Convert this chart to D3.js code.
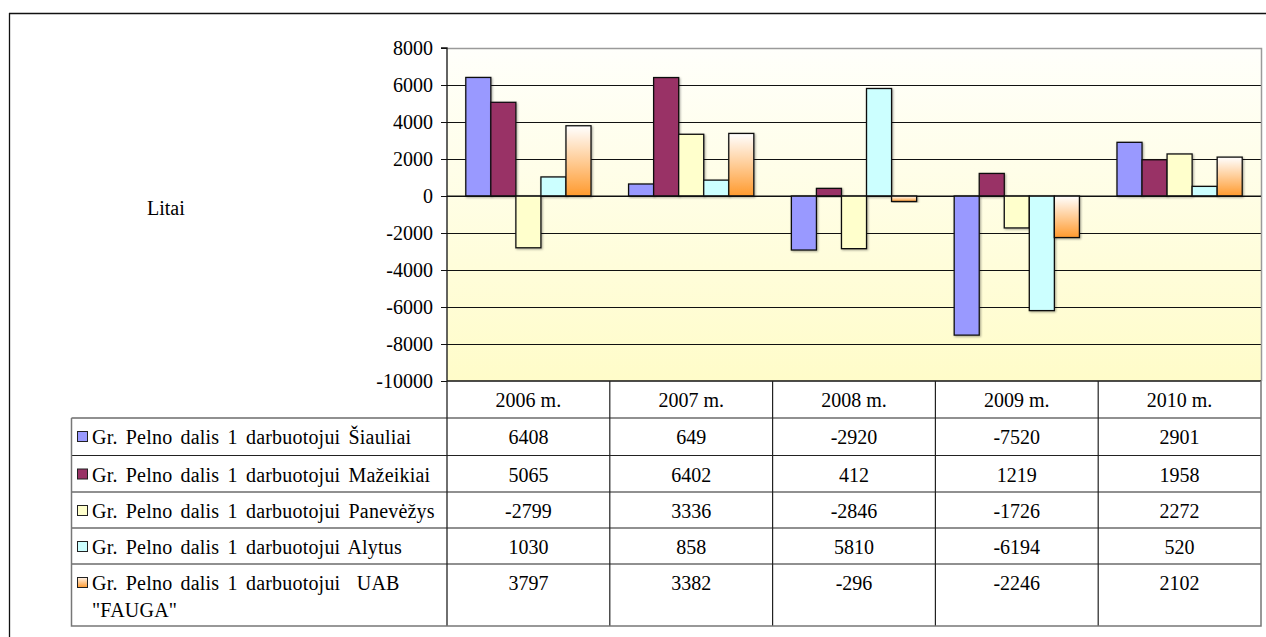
<!DOCTYPE html>
<html>
<head>
<meta charset="utf-8">
<script src="https://cdn.jsdelivr.net/npm/d3@7"></script>
<style>
  html, body { margin: 0; padding: 0; background: #fff; }
  svg { display: block; }
  text { font-family: "Liberation Serif", "Times New Roman", serif; fill: #000; }
</style>
</head>
<body>
<svg id="chart" width="1266" height="637"></svg>
<script>
// Profit share per employee (Litai), by year and unit
const years = ["2006 m.", "2007 m.", "2008 m.", "2009 m.", "2010 m."];
const seriesNames = [
  "Gr. Pelno dalis 1 darbuotojui Šiauliai",
  "Gr. Pelno dalis 1 darbuotojui Mažeikiai",
  "Gr. Pelno dalis 1 darbuotojui Panevėžys",
  "Gr. Pelno dalis 1 darbuotojui Alytus",
  "Gr. Pelno dalis 1 darbuotojui  UAB \"FAUGA\""
];
const siauliai  = [6408, 649, -2920, -7520, 2901];
const mazeikiai = [5065, 6402, 412, 1219, 1958];
const panevezys = [-2799, 3336, -2846, -1726, 2272];
const alytus    = [1030, 858, 5810, -6194, 520];
const fauga     = [3797, 3382, -296, -2246, 2102];
const yTicks = [8000, 6000, 4000, 2000, 0, -2000, -4000, -6000, -8000, -10000];
const axisTitle = "Litai";

const seriesValues = [siauliai, mazeikiai, panevezys, alytus, fauga];
const fills = ["#9999FF", "#993366", "#FFFFCC", "#CCFFFF", "url(#faugaGrad)"];
const swatchFills = ["#9999FF", "#993366", "#FFFFCC", "#CCFFFF", "url(#faugaSwatch)"];

const FONT = 20;
const fmt = d => String(d); // plain hyphen-minus

const svg = d3.select("#chart");
const defs = svg.append("defs");

const bg = defs.append("linearGradient").attr("id", "plotBg")
  .attr("x1", 0).attr("y1", 0).attr("x2", 0).attr("y2", 1);
bg.append("stop").attr("offset", "0%").attr("stop-color", "#FFFFFB");
bg.append("stop").attr("offset", "100%").attr("stop-color", "#FFFCC9");

const fg = defs.append("linearGradient").attr("id", "faugaGrad")
  .attr("x1", 0).attr("y1", 0).attr("x2", 0).attr("y2", 1);
fg.append("stop").attr("offset", "0%").attr("stop-color", "#FFFFFF");
fg.append("stop").attr("offset", "100%").attr("stop-color", "#FF9A2E");

const fs = defs.append("linearGradient").attr("id", "faugaSwatch")
  .attr("x1", 0).attr("y1", 0).attr("x2", 0).attr("y2", 1);
fs.append("stop").attr("offset", "0%").attr("stop-color", "#FFF4EA");
fs.append("stop").attr("offset", "100%").attr("stop-color", "#FF9A2E");

const shadow = defs.append("filter").attr("id", "barShadow")
  .attr("x", "-20%").attr("y", "-20%").attr("width", "140%").attr("height", "140%");
shadow.append("feDropShadow").attr("dx", 1).attr("dy", 1).attr("stdDeviation", 0.8)
  .attr("flood-color", "#000").attr("flood-opacity", 0.35);

// Outer frame (top and left edges)
svg.append("line").attr("x1", 9).attr("x2", 1266).attr("y1", 13.5).attr("y2", 13.5)
  .attr("stroke", "#111").attr("stroke-width", 1.3);
svg.append("line").attr("x1", 9.5).attr("x2", 9.5).attr("y1", 13).attr("y2", 637)
  .attr("stroke", "#111").attr("stroke-width", 1.3);

// Plot geometry
const plotLeft = 447, plotRight = 1261, plotTop = 48, plotBottom = 381;

const x0 = d3.scaleBand().domain(years).range([plotLeft, plotRight]).padding(0);
const x1 = d3.scaleBand().domain(d3.range(seriesNames.length))
  .range([0, x0.bandwidth()]).paddingInner(0).paddingOuter(0.75);
const y = d3.scaleLinear().domain([-10000, 8000]).range([plotBottom, plotTop]);

// Plot background
svg.append("rect").attr("x", plotLeft).attr("y", plotTop)
  .attr("width", plotRight - plotLeft).attr("height", plotBottom - plotTop)
  .attr("fill", "url(#plotBg)");

// Gridlines
svg.append("g").selectAll("line").data(yTicks.filter(t => t !== 8000 && t !== -10000))
  .join("line")
  .attr("x1", plotLeft).attr("x2", plotRight)
  .attr("y1", d => Math.round(y(d)) + 0.5).attr("y2", d => Math.round(y(d)) + 0.5)
  .attr("stroke", "#111").attr("stroke-width", 1);

// Plot border top/right (grey)
svg.append("path")
  .attr("d", `M${plotLeft},${plotTop + 0.5}H${plotRight + 0.5}V${plotBottom}`)
  .attr("fill", "none").attr("stroke", "#9a9a9a").attr("stroke-width", 1.5);

// Y axis
const yAxis = d3.axisLeft(y).tickValues(yTicks).tickSize(6).tickPadding(8)
  .tickFormat(fmt);
const yg = svg.append("g").attr("transform", `translate(${plotLeft},0)`).call(yAxis);
yg.attr("font-family", null).attr("font-size", null);
yg.select(".domain").attr("stroke", "#111").attr("stroke-width", 1.3)
  .attr("d", `M-6,${plotTop}H0V${plotBottom}`);
yg.selectAll(".tick line").attr("stroke", "#111");
yg.selectAll(".tick text").attr("font-size", FONT).attr("fill", "#000").attr("dy", "0.33em");

// Bars
const groups = svg.append("g").selectAll("g").data(seriesValues).join("g")
  .attr("fill", (d, i) => fills[i]);
groups.selectAll("rect")
  .data((vals, si) => vals.map((v, yi) => ({ v, yi, si })))
  .join("rect")
  .attr("x", d => x0(years[d.yi]) + x1(d.si))
  .attr("width", x1.bandwidth())
  .attr("y", d => y(Math.max(0, d.v)))
  .attr("height", d => Math.abs(y(d.v) - y(0)))
  .attr("stroke", "#111").attr("stroke-width", 1.3)
  .attr("filter", "url(#barShadow)");

// Zero line
svg.append("line").attr("x1", plotLeft).attr("x2", plotRight)
  .attr("y1", y(0)).attr("y2", y(0)).attr("stroke", "#111").attr("stroke-width", 1.2);

// Axis title
svg.append("text").attr("x", 147).attr("y", 215).attr("font-size", FONT).text(axisTitle);

// Data table
const tableLeft = 71.5, tableBottom = 626;
const headerTop = plotBottom, rowsTop = 418;
const rowLines = [418, 455.5, 492, 528, 564];
const tbl = svg.append("g");

tbl.selectAll("line.row").data(rowLines).join("line").attr("class", "row")
  .attr("x1", tableLeft).attr("x2", plotRight)
  .attr("y1", d => d).attr("y2", d => d)
  .attr("stroke", "#222").attr("stroke-width", 1.2);
tbl.append("line").attr("x1", plotLeft).attr("x2", plotRight)
  .attr("y1", plotBottom).attr("y2", plotBottom).attr("stroke", "#111").attr("stroke-width", 1.3);
tbl.selectAll("line.col").data(years.slice(1)).join("line").attr("class", "col")
  .attr("x1", d => x0(d)).attr("x2", d => x0(d))
  .attr("y1", headerTop).attr("y2", tableBottom)
  .attr("stroke", "#222").attr("stroke-width", 1.2);
tbl.append("line").attr("x1", plotLeft).attr("x2", plotLeft)
  .attr("y1", plotBottom).attr("y2", tableBottom).attr("stroke", "#222").attr("stroke-width", 1.3);
tbl.append("path")
  .attr("d", `M${tableLeft},${rowsTop}V${tableBottom}H${plotRight}V${headerTop}`)
  .attr("fill", "none").attr("stroke", "#777").attr("stroke-width", 1.5);

// header labels
tbl.selectAll("text.hdr").data(years).join("text").attr("class", "hdr")
  .attr("x", d => x0(d) + x0.bandwidth() / 2).attr("y", 407)
  .attr("text-anchor", "middle").attr("font-size", FONT).text(d => d);

// legend column and values
seriesNames.forEach((name, i) => {
  const top = rowLines[i];
  const baseline = top + 26;
  tbl.append("rect").attr("x", 77.5).attr("y", baseline - 12.5)
    .attr("width", 10).attr("height", 10)
    .attr("fill", swatchFills[i]).attr("stroke", "#222").attr("stroke-width", 1);
  const lines = i === seriesNames.length - 1
    ? ["Gr. Pelno dalis 1 darbuotojui  UAB", "\"FAUGA\""]
    : [name];
  const t = tbl.append("text").attr("font-size", FONT)
    .attr("word-spacing", 3).attr("letter-spacing", 0.2)
    .style("white-space", "pre");
  lines.forEach((ln, k) => {
    t.append("tspan").attr("x", 92).attr("y", baseline + k * 27).text(ln);
  });
  tbl.selectAll(null).data(seriesValues[i]).join("text")
    .attr("x", (d, yi) => x0(years[yi]) + x0.bandwidth() / 2)
    .attr("y", baseline)
    .attr("text-anchor", "middle").attr("font-size", FONT)
    .text(fmt);
});
</script>
</body>
</html>
